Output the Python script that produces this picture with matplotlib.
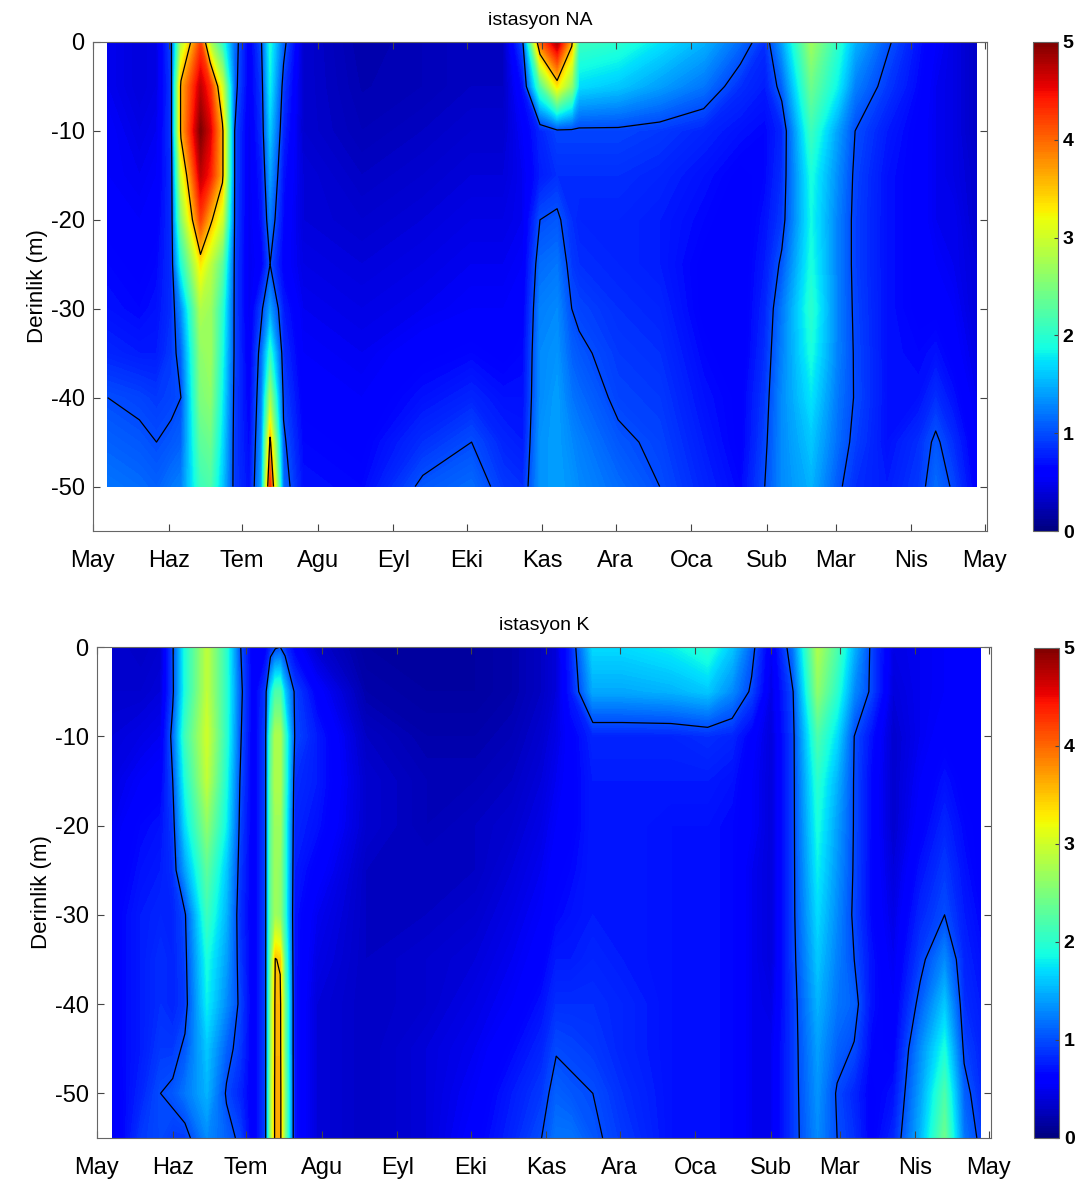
import matplotlib.pyplot as plt
import numpy as np

plt.rcParams['font.family'] = ['Liberation Sans', 'DejaVu Sans']
plt.rcParams['axes.unicode_minus'] = False

# month ticks (days after 1 May)
month_days = [0, 31, 61, 92, 123, 153, 184, 214, 245, 276, 304, 335, 365]
month_labels = ['May', 'Haz', 'Tem', 'Agu', 'Eyl', 'Eki', 'Kas', 'Ara', 'Oca',
                'Sub', 'Mar', 'Nis', 'May']

# ---- istasyon NA ----
na_depth = [0, -5, -10, -15, -20, -25, -30, -35, -40, -45, -50]
na_days = [6, 19, 26, 32, 36, 44, 48, 53, 58, 64, 69, 72.5, 78, 86, 110, 135,
           155, 168, 176, 183, 190, 196, 199, 215, 232, 250, 265, 275, 282,
           294, 305, 312, 325, 338, 345, 352, 361.5]
# one profile (0 .. -50 m) per sampling day
na_profiles = [
    [0.5, 0.5, 0.55, 0.55, 0.6, 0.65, 0.7, 0.8, 1.0, 1.1, 1.2],
    [0.4, 0.4, 0.45, 0.5, 0.55, 0.6, 0.65, 0.75, 0.95, 1.05, 1.15],
    [0.45, 0.45, 0.5, 0.55, 0.6, 0.65, 0.7, 0.75, 0.9, 1.0, 1.1],
    [0.95, 0.9, 0.9, 0.85, 0.85, 0.85, 0.85, 0.9, 0.95, 1.05, 1.2],
    [2.8, 3.6, 3.6, 3.0, 2.5, 1.9, 1.3, 1.1, 1.0, 1.1, 1.25],
    [4.2, 4.7, 5.0, 4.7, 4.2, 3.3, 2.8, 2.6, 2.5, 2.3, 2.1],
    [2.8, 4.3, 4.6, 4.4, 3.6, 2.9, 2.7, 2.7, 2.6, 2.4, 2.2],
    [2.0, 3.0, 3.6, 3.6, 3.0, 2.3, 2.0, 1.9, 1.8, 1.7, 1.6],
    [1.15, 1.1, 1.0, 1.0, 0.98, 0.95, 0.95, 0.95, 0.92, 0.9, 0.9],
    [0.55, 0.55, 0.5, 0.5, 0.5, 0.5, 0.5, 0.55, 0.6, 0.65, 0.7],
    [1.0, 0.9, 0.85, 0.75, 0.7, 0.6, 0.95, 1.15, 1.25, 1.35, 1.45],
    [1.9, 1.8, 1.6, 1.4, 1.2, 1.0, 1.4, 2.0, 2.7, 3.6, 4.3],
    [1.1, 0.9, 0.8, 0.7, 0.65, 0.6, 0.75, 0.85, 0.95, 1.05, 1.15],
    [0.35, 0.35, 0.35, 0.4, 0.4, 0.45, 0.5, 0.55, 0.6, 0.65, 0.7],
    [0.2, 0.22, 0.25, 0.3, 0.35, 0.4, 0.45, 0.5, 0.55, 0.6, 0.65],
    [0.25, 0.25, 0.3, 0.35, 0.4, 0.45, 0.5, 0.6, 0.7, 0.85, 1.05],
    [0.3, 0.3, 0.35, 0.4, 0.45, 0.5, 0.55, 0.65, 0.8, 1.0, 1.15],
    [0.3, 0.3, 0.35, 0.4, 0.45, 0.5, 0.55, 0.6, 0.7, 0.8, 0.9],
    [1.0, 0.7, 0.55, 0.5, 0.5, 0.55, 0.6, 0.65, 0.7, 0.75, 0.85],
    [4.0, 2.2, 0.8, 0.75, 1.0, 1.15, 1.25, 1.3, 1.3, 1.35, 1.35],
    [4.8, 3.3, 0.95, 0.85, 1.05, 1.2, 1.3, 1.35, 1.4, 1.4, 1.4],
    [3.6, 2.6, 0.95, 0.85, 0.85, 0.9, 1.0, 1.1, 1.2, 1.3, 1.35],
    [2.1, 1.7, 0.95, 0.85, 0.8, 0.85, 0.95, 1.05, 1.15, 1.25, 1.3],
    [2.0, 1.6, 0.95, 0.85, 0.8, 0.8, 0.85, 0.9, 0.95, 1.05, 1.15],
    [1.75, 1.4, 0.9, 0.8, 0.75, 0.75, 0.8, 0.85, 0.9, 0.95, 1.0],
    [1.5, 1.2, 0.8, 0.7, 0.65, 0.6, 0.6, 0.65, 0.7, 0.75, 0.8],
    [1.15, 0.85, 0.7, 0.6, 0.55, 0.55, 0.55, 0.55, 0.6, 0.6, 0.65],
    [0.85, 0.75, 0.65, 0.65, 0.7, 0.75, 0.8, 0.85, 0.9, 0.95, 1.0],
    [1.4, 1.1, 0.8, 0.85, 0.9, 1.05, 1.2, 1.25, 1.3, 1.3, 1.3],
    [2.7, 2.4, 2.1, 1.9, 1.85, 1.9, 2.0, 1.9, 1.75, 1.6, 1.5],
    [2.0, 1.8, 1.4, 1.3, 1.25, 1.25, 1.25, 1.25, 1.2, 1.15, 1.05],
    [1.5, 1.25, 1.0, 0.95, 0.93, 0.93, 0.95, 0.97, 0.98, 0.93, 0.85],
    [1.05, 0.9, 0.75, 0.7, 0.7, 0.7, 0.7, 0.7, 0.7, 0.7, 0.75],
    [0.7, 0.65, 0.6, 0.6, 0.6, 0.6, 0.6, 0.65, 0.7, 0.85, 0.9],
    [0.55, 0.5, 0.5, 0.5, 0.5, 0.55, 0.6, 0.7, 0.85, 1.05, 1.15],
    [0.45, 0.45, 0.45, 0.45, 0.5, 0.5, 0.55, 0.6, 0.7, 0.85, 0.97],
    [0.3, 0.3, 0.3, 0.35, 0.35, 0.4, 0.4, 0.45, 0.5, 0.55, 0.6],
]

# ---- istasyon K ----
k_depth = [0, -5, -10, -15, -20, -25, -30, -35, -40, -45, -50, -55]
k_days = [6.5, 18, 26, 31, 36, 45, 53, 58.5, 64, 69, 71, 73, 75, 77, 81, 90,
          110, 135, 155, 170, 182, 188, 194, 203, 215, 235, 250, 260, 268,
          276, 285, 295, 303, 310, 317, 326, 337, 347, 355, 361.5]
k_profiles = [
    [0.35, 0.35, 0.4, 0.45, 0.5, 0.55, 0.6, 0.6, 0.6, 0.6, 0.55, 0.5],
    [0.3, 0.35, 0.45, 0.55, 0.65, 0.7, 0.75, 0.75, 0.75, 0.75, 0.8, 0.9],
    [0.35, 0.4, 0.5, 0.6, 0.7, 0.75, 0.8, 0.85, 0.85, 0.9, 1.0, 0.98],
    [0.97, 0.95, 1.1, 1.0, 0.9, 0.85, 0.8, 0.8, 0.8, 0.9, 1.05, 0.9],
    [1.9, 1.9, 2.1, 1.9, 1.7, 1.4, 0.97, 0.93, 0.9, 1.05, 1.2, 0.9],
    [2.9, 2.9, 3.0, 2.9, 2.6, 2.3, 2.1, 1.9, 1.8, 1.6, 1.5, 1.3],
    [2.0, 2.0, 2.0, 1.9, 1.8, 1.6, 1.5, 1.4, 1.3, 1.1, 0.97, 1.1],
    [1.03, 1.1, 1.05, 1.0, 0.95, 0.9, 0.85, 0.9, 0.95, 0.9, 0.8, 0.95],
    [0.55, 0.55, 0.55, 0.55, 0.55, 0.55, 0.55, 0.55, 0.55, 0.55, 0.55, 0.55],
    [0.6, 0.9, 0.95, 0.95, 0.95, 0.95, 0.95, 0.95, 0.95, 0.95, 0.95, 0.95],
    [0.8, 1.7, 2.2, 2.3, 2.3, 2.3, 2.3, 2.4, 2.5, 2.5, 2.6, 2.6],
    [0.95, 2.2, 2.8, 2.8, 2.7, 2.7, 2.7, 3.52, 3.6, 3.62, 3.65, 3.65],
    [1.0, 2.2, 2.8, 2.8, 2.7, 2.6, 2.6, 3.45, 3.6, 3.62, 3.65, 3.65],
    [0.85, 1.6, 2.1, 2.1, 2.0, 2.0, 2.0, 2.2, 2.4, 2.4, 2.5, 2.5],
    [0.6, 0.95, 0.98, 0.85, 0.8, 0.75, 0.7, 0.7, 0.7, 0.7, 0.7, 0.7],
    [0.35, 0.6, 0.75, 0.75, 0.7, 0.6, 0.5, 0.45, 0.4, 0.4, 0.4, 0.4],
    [0.15, 0.2, 0.3, 0.35, 0.35, 0.3, 0.3, 0.3, 0.3, 0.3, 0.3, 0.3],
    [0.15, 0.15, 0.2, 0.25, 0.25, 0.3, 0.3, 0.35, 0.35, 0.4, 0.4, 0.4],
    [0.15, 0.15, 0.2, 0.25, 0.3, 0.3, 0.35, 0.4, 0.45, 0.5, 0.55, 0.6],
    [0.2, 0.2, 0.25, 0.3, 0.35, 0.4, 0.45, 0.5, 0.55, 0.65, 0.75, 0.8],
    [0.3, 0.3, 0.35, 0.4, 0.45, 0.5, 0.55, 0.6, 0.7, 0.8, 0.9, 1.0],
    [0.4, 0.4, 0.45, 0.5, 0.55, 0.6, 0.65, 0.75, 0.85, 0.98, 1.1, 1.2],
    [0.8, 0.75, 0.6, 0.6, 0.6, 0.65, 0.7, 0.75, 0.85, 0.95, 1.05, 1.2],
    [1.7, 1.45, 0.8, 0.75, 0.75, 0.75, 0.75, 0.8, 0.85, 0.9, 1.0, 1.05],
    [1.7, 1.45, 0.8, 0.75, 0.75, 0.75, 0.75, 0.75, 0.8, 0.8, 0.85, 0.9],
    [1.8, 1.5, 0.8, 0.75, 0.7, 0.7, 0.7, 0.7, 0.7, 0.7, 0.7, 0.7],
    [2.0, 1.6, 0.85, 0.75, 0.7, 0.7, 0.7, 0.7, 0.7, 0.7, 0.7, 0.7],
    [1.6, 1.3, 0.8, 0.7, 0.65, 0.65, 0.65, 0.65, 0.65, 0.65, 0.65, 0.65],
    [1.1, 0.95, 0.6, 0.55, 0.55, 0.5, 0.5, 0.5, 0.5, 0.5, 0.5, 0.5],
    [0.5, 0.45, 0.4, 0.4, 0.4, 0.4, 0.4, 0.4, 0.45, 0.5, 0.5, 0.5],
    [1.2, 1.0, 0.95, 0.95, 0.95, 0.95, 0.95, 0.93, 0.9, 0.9, 0.9, 0.9],
    [2.8, 2.6, 2.2, 2.0, 1.9, 1.8, 1.7, 1.6, 1.5, 1.4, 1.35, 1.3],
    [2.2, 2.0, 1.7, 1.5, 1.4, 1.35, 1.3, 1.25, 1.2, 1.1, 0.97, 1.0],
    [1.5, 1.3, 1.0, 0.98, 0.98, 0.97, 0.95, 1.0, 1.1, 0.98, 0.8, 0.85],
    [0.95, 0.95, 0.7, 0.65, 0.65, 0.65, 0.65, 0.7, 0.7, 0.65, 0.6, 0.6],
    [0.45, 0.4, 0.35, 0.35, 0.35, 0.4, 0.45, 0.5, 0.55, 0.6, 0.7, 0.8],
    [0.5, 0.5, 0.5, 0.55, 0.6, 0.7, 0.8, 0.92, 1.08, 1.3, 1.4, 1.5],
    [0.55, 0.55, 0.6, 0.7, 0.8, 0.9, 1.0, 1.3, 1.6, 1.9, 2.2, 2.4],
    [0.6, 0.6, 0.6, 0.6, 0.65, 0.7, 0.75, 0.8, 0.85, 0.95, 1.1, 1.2],
    [0.55, 0.55, 0.55, 0.55, 0.6, 0.6, 0.65, 0.7, 0.75, 0.8, 0.85, 0.95],
]

panels = [
    ('istasyon NA', na_days, na_depth, na_profiles,
     [93, 42, 987, 531], [1033, 42, 1058, 531]),
    ('istasyon K', k_days, k_depth, k_profiles,
     [97, 647, 991, 1138], [1034, 648, 1059, 1138]),
]

W, H = 1087, 1183
fig = plt.figure(figsize=(W / 100, H / 100), dpi=100)
fill_levels = np.linspace(0, 5, 201)


def box(px):
    x0, y0, x1, y1 = px
    return [x0 / W, 1 - y1 / H, (x1 - x0) / W, (y1 - y0) / H]


for title, days, depth, profiles, ax_px, cb_px in panels:
    ax = fig.add_axes(box(ax_px))
    z = np.array(profiles).T
    cf = ax.contourf(days, depth, z, levels=fill_levels, cmap='jet',
                     vmin=0, vmax=5)
    ax.contour(days, depth, z, levels=[1, 3.5], colors='k', linewidths=0.9)
    ax.set_xlim(0, 366)
    ax.set_ylim(-55, 0)
    ax.set_xticks(month_days)
    ax.set_xticklabels(month_labels)
    ax.set_yticks([0, -10, -20, -30, -40, -50])
    ax.tick_params(direction='in', top=True, right=True, labelsize=17,
                   length=5, color='#444444')
    ax.tick_params(axis='x', pad=14)
    ax.tick_params(axis='y', pad=6)
    for s in ax.spines.values():
        s.set_color('#666666')
    ax.set_title(title, fontsize=14, pad=12)
    ax.set_ylabel('Derinlik (m)', fontsize=16, labelpad=2)

    cax = fig.add_axes(box(cb_px))
    cb = fig.colorbar(cf, cax=cax, ticks=[0, 1, 2, 3, 4, 5])
    cb.ax.tick_params(direction='in', labelsize=14, length=3, color='#444444')
    cb.ax.set_yticklabels(['0', '1', '2', '3', '4', '5'], fontweight='bold')
    cb.outline.set_edgecolor('#666666')

fig.savefig('out.png', dpi=100)
